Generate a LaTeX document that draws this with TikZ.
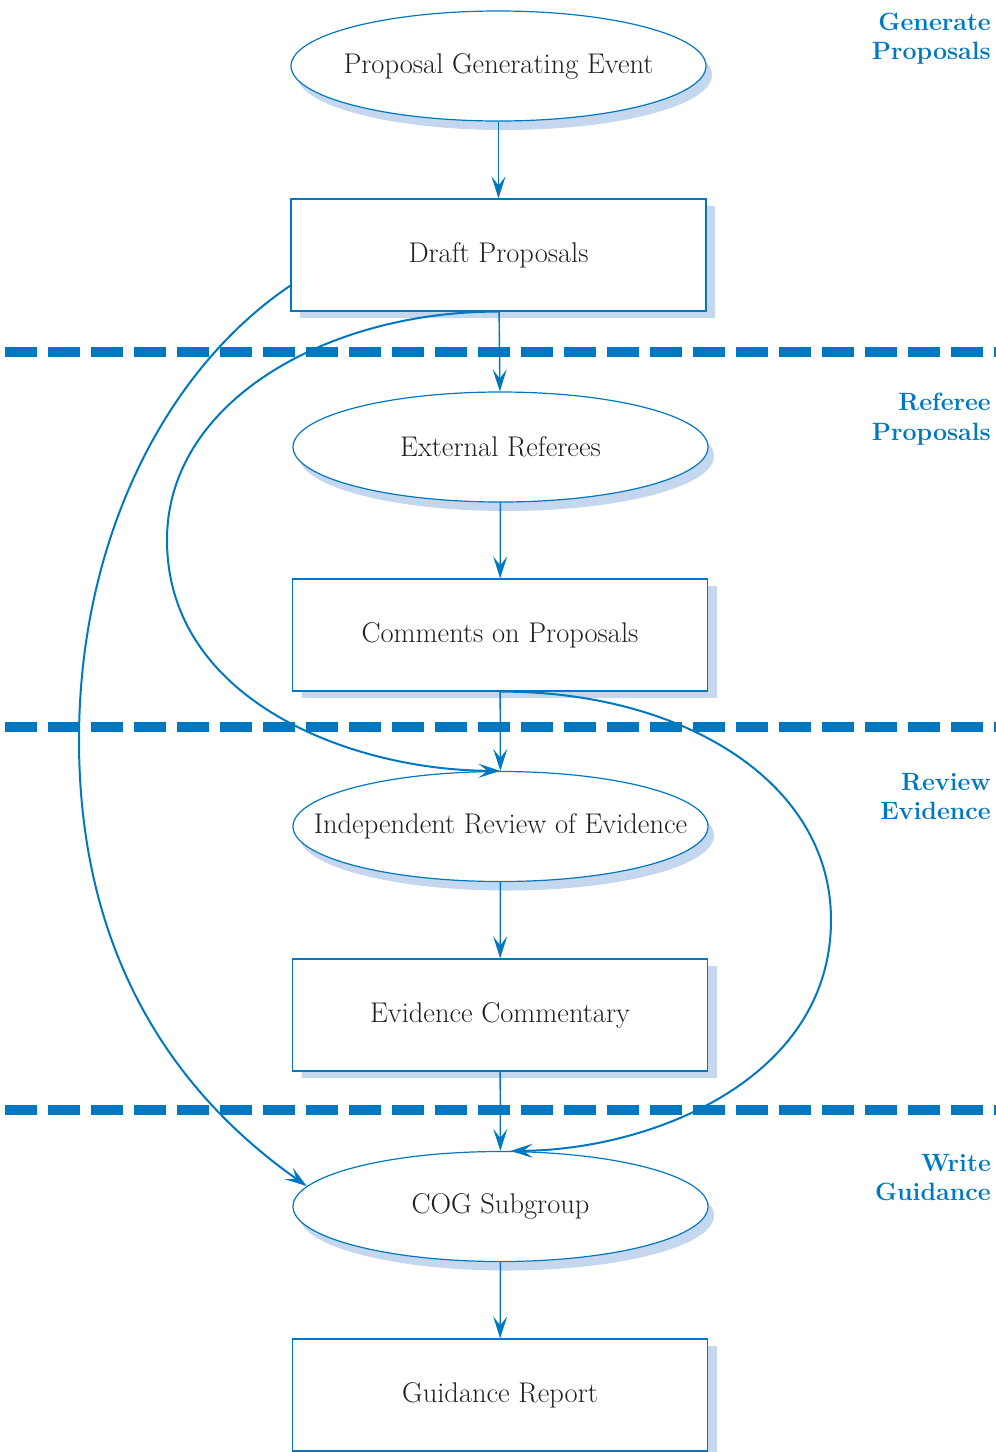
\documentclass[tikz,border=0pt]{standalone}
\usetikzlibrary{arrows.meta,shapes.geometric,shadows,calc}
\definecolor{lineblue}{HTML}{0078C1}
\definecolor{shadeblue}{HTML}{C5D6EF}
\definecolor{ink}{HTML}{231F20}
\begin{document}
\begin{tikzpicture}[x=1pt,y=-1pt,
  every node/.style={text=ink,font=\fontsize{28.5}{32}\selectfont},
  ell/.style={ellipse,draw=lineblue,line width=1.2pt,fill=white,minimum width=415pt,minimum height=110pt,inner ysep=0pt,inner xsep=-120pt,
    drop shadow={shadow xshift=6pt,shadow yshift=-9pt,fill=shadeblue,opacity=1}},
  boxnode/.style={rectangle,draw=lineblue,line width=1.2pt,fill=white,minimum width=415pt,minimum height=112pt,inner sep=0pt,
    drop shadow={shadow xshift=9pt,shadow yshift=-7pt,fill=shadeblue,opacity=1}},
  flow/.style={draw=lineblue,line width=1.4pt,-{Stealth[length=22pt,width=14pt,inset=9pt]}},
  loopline/.style={draw=lineblue,line width=2pt,-{Stealth[length=22pt,width=14pt,inset=9pt]}},
  sep/.style={draw=lineblue,line width=10pt,dash pattern=on 32pt off 11pt},
  phase/.style={text=lineblue,align=right,anchor=east,inner sep=0pt,font=\fontsize{25}{29.5}\selectfont\bfseries}
]
\useasboundingbox (0,0) rectangle (996,1452);
\node[ell] (pge) at (498.5,66) {Proposal Generating Event};
\node[boxnode] (draft) at (498.5,255) {Draft Proposals};
\node[ell] (ext) at (500.5,447) {External Referees};
\node[boxnode] (comm) at (500,635) {Comments on Proposals};
\node[ell] (ire) at (500.5,826.5) {Independent Review of Evidence};
\node[boxnode] (evc) at (500,1015) {Evidence Commentary};
\node[ell] (cog) at (500.5,1206.5) {COG Subgroup};
\node[boxnode] (guide) at (500,1395) {Guidance Report};

\draw[flow] (pge) -- (draft);
\draw[flow] (draft) -- (ext);
\draw[flow] (ext) -- (comm);
\draw[flow] (comm) -- (ire);
\draw[flow] (ire) -- (evc);
\draw[flow] (evc) -- (cog);
\draw[flow] (cog) -- (guide);

\coordinate (c1) at (79,740);
\coordinate (c2) at (167,540);
\coordinate (c3) at (831,920);
\draw[loopline] ($(draft.south west)+(0,-26)$) .. controls (165,370) and (79,540) .. (c1)
   .. controls (79,950) and (170,1090) .. (cog.174);
\draw[loopline] (draft.south) .. controls (330,311) and (167,400) .. (c2)
   .. controls (167,700) and (350,770) .. (ire.north);
\draw[loopline] (comm.south) .. controls (680,691) and (831,780) .. (c3)
   .. controls (831,1080) and (650,1150) .. ($(cog.north)+(10,0)$);

\coordinate (s1a) at (5,351.5); \coordinate (s1b) at (996,351.5);
\coordinate (s2a) at (5,727); \coordinate (s2b) at (996,727);
\coordinate (s3a) at (5,1109.5); \coordinate (s3b) at (996,1109.5);
\draw[sep] (s1a) -- (s1b);
\draw[sep] (s2a) -- (s2b);
\draw[sep] (s3a) -- (s3b);

\node[phase] (p1) at (991,38.5) {Generate\\Proposals};
\node[phase] (p2) at (991,419) {Referee\\Proposals};
\node[phase] (p3) at (991,796.5) {Review\\Evidence};
\node[phase] (p4) at (991,1177.5) {Write\\Guidance};
\end{tikzpicture}
\end{document}
